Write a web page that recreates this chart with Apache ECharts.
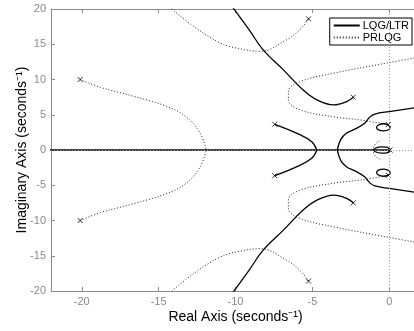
<!DOCTYPE html>
<html>
<head>
<meta charset="utf-8">
<script src="https://cdn.jsdelivr.net/npm/echarts@6/dist/echarts.min.js"></script>
<style>
  html, body { margin: 0; padding: 0; background: #fff; }
  #locus { width: 414px; height: 331px; }
</style>
</head>
<body>
<div id="locus"></div>
<script>
// axis ticks
var xTicks = [-20, -15, -10, -5, 0];
var yTicks = [-20, -15, -10, -5, 0, 5, 10, 15, 20];

// PRLQG branches (dotted)
var prBranchAUp = [[-20.1, 10], [-18.8, 8.9], [-16.6, 7.6], [-14.5, 6.2], [-13.2, 4.7], [-12.3, 2.4], [-11.9, 0]];
var prBranchADn = [[-20.1, -10], [-18.8, -8.9], [-16.6, -7.6], [-14.5, -6.2], [-13.2, -4.7], [-12.3, -2.4], [-11.9, 0]];
var prBranchBUp = [[-14.3, 20.3], [-12.7, 17.5], [-11.0, 15.2], [-9.8, 14.4], [-8.4, 14.0], [-6.7, 15.6], [-5.8, 17.1], [-5.25, 18.6]];
var prBranchBDn = [[-14.3, -20.3], [-12.7, -17.5], [-11.0, -15.2], [-9.8, -14.4], [-8.4, -14.0], [-6.7, -15.6], [-5.8, -17.1], [-5.25, -18.6]];
var prBranchCUp = [[-0.06, 3.6], [-1.9, 4.27], [-3.6, 4.7], [-5.8, 5.7], [-6.56, 7.1], [-6.56, 8.3], [-5.8, 9.7], [-3.6, 10.9], [0, 12.4], [2, 13.2]];
var prBranchCDn = [[-0.06, -3.6], [-1.9, -4.27], [-3.6, -4.7], [-5.8, -5.7], [-6.56, -7.1], [-6.56, -8.3], [-5.8, -9.7], [-3.6, -10.9], [0, -12.4], [2, -13.2]];
var prArcUp = [[-0.4, 1.42], [-0.75, 1.15], [-0.98, 0.6], [-1.05, 0]];
var prArcDn = [[-0.4, -1.42], [-0.75, -1.15], [-0.98, -0.6], [-1.05, 0]];

// LQG/LTR branches (solid)
var lqBranchAUp = [[-10.2, 20.3], [-9.1, 17.0], [-8.2, 14.2], [-6.9, 11.4], [-5.6, 8.5], [-4.7, 7.1], [-3.6, 6.4], [-2.77, 6.87], [-2.34, 7.5]];
var lqBranchADn = [[-10.2, -20.3], [-9.1, -17.0], [-8.2, -14.2], [-6.9, -11.4], [-5.6, -8.5], [-4.7, -7.1], [-3.6, -6.4], [-2.77, -6.87], [-2.34, -7.5]];
var lqBranchBUp = [[-7.45, 3.65], [-6.0, 2.37], [-5.04, 1.18], [-4.71, 0]];
var lqBranchBDn = [[-7.45, -3.65], [-6.0, -2.37], [-5.04, -1.18], [-4.71, 0]];
var lqBranchCUp = [[-3.38, 0], [-3.15, 1.5], [-2.77, 2.4], [-2.2, 3.0], [-1.6, 3.8], [-1.25, 4.7], [-0.93, 5.1], [0, 5.45], [2, 6.1]];
var lqBranchCDn = [[-3.38, 0], [-3.15, -1.5], [-2.77, -2.4], [-2.2, -3.0], [-1.6, -3.8], [-1.25, -4.7], [-0.93, -5.1], [0, -5.45], [2, -6.1]];
var lqLoopUp = [[-0.06, 3.56], [-0.35, 3.72], [-0.7, 3.55], [-0.82, 3.2], [-0.7, 2.85], [-0.35, 2.72], [0, 2.95], [0.05, 3.25], [-0.06, 3.56]];
var lqLoopDn = [[-0.06, -3.56], [-0.35, -3.72], [-0.7, -3.55], [-0.82, -3.2], [-0.7, -2.85], [-0.35, -2.72], [0, -2.95], [0.05, -3.25], [-0.06, -3.56]];
var lqBlob = [[0.1, 0], [-0.15, 0.42], [-0.55, 0.45], [-0.9, 0.25], [-1.0, 0], [-0.9, -0.25], [-0.55, -0.45], [-0.15, -0.42], [0.1, 0]];
var realAxis = [[-23, 0], [0, 0]];

// poles and zeros
var poles = [[-20.1, 10], [-20.1, -10], [-5.25, 18.6], [-5.25, -18.6], [-7.45, 3.65], [-7.45, -3.65],
  [-2.34, 7.5], [-2.34, -7.5], [-0.06, 3.6], [-0.06, -3.6], [0.05, 0]];
var zeros = [[0.41, 3.22], [0.41, -3.22], [-0.4, 1.42], [-0.4, -1.42]];

var font = 'Liberation Sans, Arial, sans-serif';
var axisGray = '#8a8a8a';

function dotted(data) {
  return {
    name: 'PRLQG', type: 'line', data: data, symbol: 'none', smooth: 0.4,
    itemStyle: { color: '#222' },
    lineStyle: { color: '#222', width: 1, type: [1, 2] }, z: 2
  };
}
function solid(data, w) {
  return {
    name: 'LQG/LTR', type: 'line', data: data, symbol: 'none', smooth: 0.4,
    itemStyle: { color: '#000' },
    lineStyle: { color: '#000', width: w || 1.3, type: 'solid' }, z: 3
  };
}

var series = [
  solid(lqBranchAUp), solid(lqBranchADn), solid(lqBranchBUp), solid(lqBranchBDn),
  solid(lqBranchCUp), solid(lqBranchCDn), solid(lqLoopUp), solid(lqLoopDn), solid(lqBlob), solid(realAxis, 1.7),
  dotted(prBranchAUp), dotted(prBranchADn), dotted(prBranchBUp), dotted(prBranchBDn),
  dotted(prBranchCUp), dotted(prBranchCDn), dotted(prArcUp), dotted(prArcDn),
  {
    type: 'scatter', data: poles, symbol: 'path://M0,0L10,10M10,0L0,10', symbolSize: 5,
    itemStyle: { color: 'none', borderColor: '#000', borderWidth: 1 }, z: 4, silent: true
  },
  {
    type: 'scatter', data: zeros, symbol: 'emptyCircle', symbolSize: 5,
    itemStyle: { color: '#fff', borderColor: '#000', borderWidth: 1 }, z: 4, silent: true,
    markLine: {
      silent: true, symbol: 'none', label: { show: false },
      lineStyle: { color: '#999', width: 1, type: [1, 2] },
      data: [{ xAxis: 0 }, { yAxis: 0 }]
    }
  }
];

var chart = echarts.init(document.getElementById('locus'));
chart.setOption({
  animation: false,
  textStyle: { fontFamily: font },
  grid: { left: 51, right: -6, top: 9, bottom: 40, outerBoundsMode: 'none', containLabel: false },
  legend: {
    data: ['LQG/LTR', 'PRLQG'],
    orient: 'vertical', right: 2, top: 18,
    itemWidth: 26, itemHeight: 6, itemGap: 1,
    padding: [2, 3, 2, 3],
    itemStyle: { opacity: 0 },
    borderColor: '#000', borderWidth: 1, backgroundColor: '#fff',
    textStyle: { fontFamily: font, fontSize: 11, color: '#000', padding: [0, 0, 0, -2] }
  },
  xAxis: [{
    type: 'value', min: -22, max: 2,
    name: 'Real Axis (seconds⁻¹)', nameLocation: 'middle', nameGap: 19, nameMoveOverlap: false,
    nameTextStyle: { fontFamily: font, fontSize: 14, color: '#000' },
    axisLine: { onZero: false, lineStyle: { color: axisGray } },
    axisTick: { inside: true, length: 4, customValues: xTicks, lineStyle: { color: axisGray } },
    axisLabel: { margin: 5, fontSize: 11, color: axisGray, fontFamily: font, customValues: xTicks },
    splitLine: { show: false }
  }, {
    type: 'value', position: 'top', min: -22, max: 2,
    axisLine: { onZero: false, lineStyle: { color: axisGray } },
    axisTick: { inside: true, length: 4, customValues: xTicks, lineStyle: { color: axisGray } },
    axisLabel: { show: false },
    splitLine: { show: false }
  }],
  yAxis: {
    type: 'value', min: -20, max: 20, interval: 5,
    name: 'Imaginary Axis (seconds⁻¹)', nameLocation: 'middle', nameGap: 22, nameMoveOverlap: false,
    nameTextStyle: { fontFamily: font, fontSize: 14, color: '#000' },
    axisLine: { onZero: false, lineStyle: { color: axisGray } },
    axisTick: { inside: true, length: 4, customValues: yTicks, lineStyle: { color: axisGray } },
    axisLabel: { margin: 5, fontSize: 11, color: axisGray, fontFamily: font, customValues: yTicks },
    splitLine: { show: false }
  },
  series: series
});
</script>
</body>
</html>
